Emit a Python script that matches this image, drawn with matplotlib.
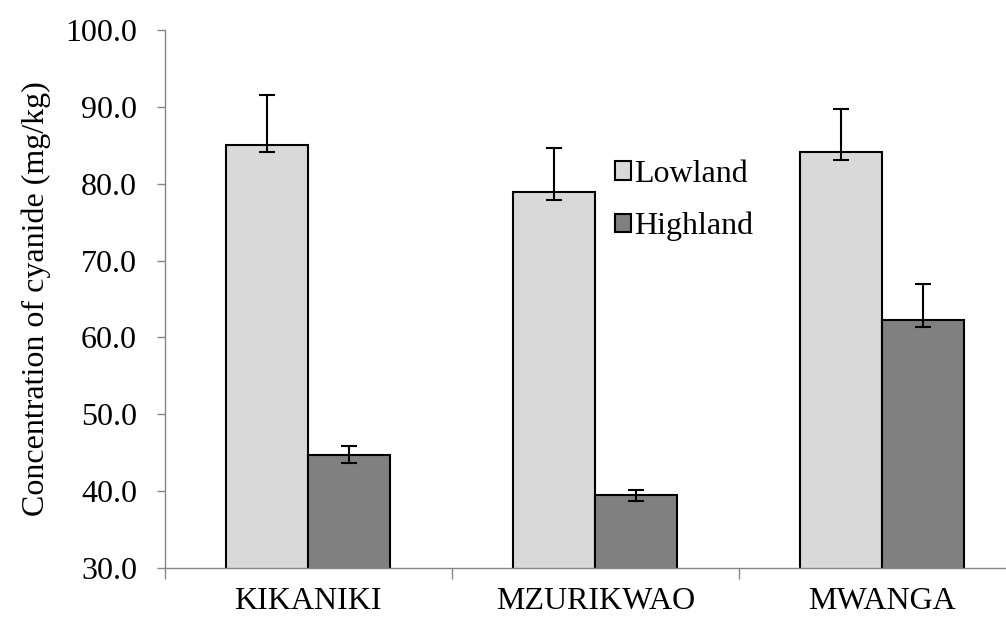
import numpy as np
import matplotlib
matplotlib.use("Agg")
import matplotlib.pyplot as plt

# Datos
sitios = ["KIKANIKI", "MZURIKWAO", "MWANGA"]
lowland = [85.1, 78.9, 84.1]
highland = [44.7, 39.5, 62.3]
# barras de error asimétricas (abajo, arriba)
low_err_abajo = [1.0, 1.0, 1.0]
low_err_arriba = [6.4, 5.8, 5.6]
high_err_abajo = [1.0, 0.8, 1.0]
high_err_arriba = [1.2, 0.7, 4.6]
yticks = [30, 40, 50, 60, 70, 80, 90, 100]

plt.rcParams["font.family"] = ["Liberation Serif", "DejaVu Serif"]
fs = 23

fig = plt.figure(figsize=(10.06, 6.17), dpi=100)
ax = fig.add_axes([164.8 / 1006, 1 - 568 / 617, 861 / 1006, 538 / 617])

x = np.arange(len(sitios))
ancho = 0.286

ax.bar(x - ancho / 2, lowland, ancho, color="#d9d9d9", edgecolor="black",
       linewidth=1.5, label="Lowland", zorder=2)
ax.bar(x + ancho / 2, highland, ancho, color="#808080", edgecolor="black",
       linewidth=1.5, label="Highland", zorder=2)

ax.errorbar(x - ancho / 2, lowland, yerr=[low_err_abajo, low_err_arriba],
            fmt="none", ecolor="black", elinewidth=1.5, capsize=6, capthick=1.5, zorder=3)
ax.errorbar(x + ancho / 2, highland, yerr=[high_err_abajo, high_err_arriba],
            fmt="none", ecolor="black", elinewidth=1.5, capsize=6, capthick=1.5, zorder=3)

ax.set_xlim(-0.5, len(sitios) - 0.5)
ax.set_ylim(30, 100)
ax.set_yticks(yticks)
ax.set_yticklabels([f"{v:.1f}" for v in yticks])
ax.set_xticks(x)
ax.set_xticklabels(sitios)
ax.set_xticks(np.arange(-0.5, len(sitios), 1.0), minor=True)

ax.tick_params(axis="x", which="major", length=0, pad=14, labelsize=fs)
ax.tick_params(axis="x", which="minor", length=8, width=1, color="#868686", direction="out")
ax.tick_params(axis="y", which="major", length=6, width=1, color="#868686",
               direction="out", pad=14, labelsize=fs)

for lado in ["top", "right"]:
    ax.spines[lado].set_visible(False)
for lado in ["left", "bottom"]:
    ax.spines[lado].set_color("#868686")
    ax.spines[lado].set_linewidth(1)

ax.set_ylabel("Concentration of cyanide (mg/kg)", fontsize=fs, labelpad=10)

ax.legend(loc="center left", bbox_to_anchor=(0.523, 0.683), frameon=False, fontsize=fs,
          handlelength=0.5, handleheight=0.5, handletextpad=0.1, labelspacing=0.72,
          borderaxespad=0, borderpad=0)

fig.savefig("out.png", dpi=100)
